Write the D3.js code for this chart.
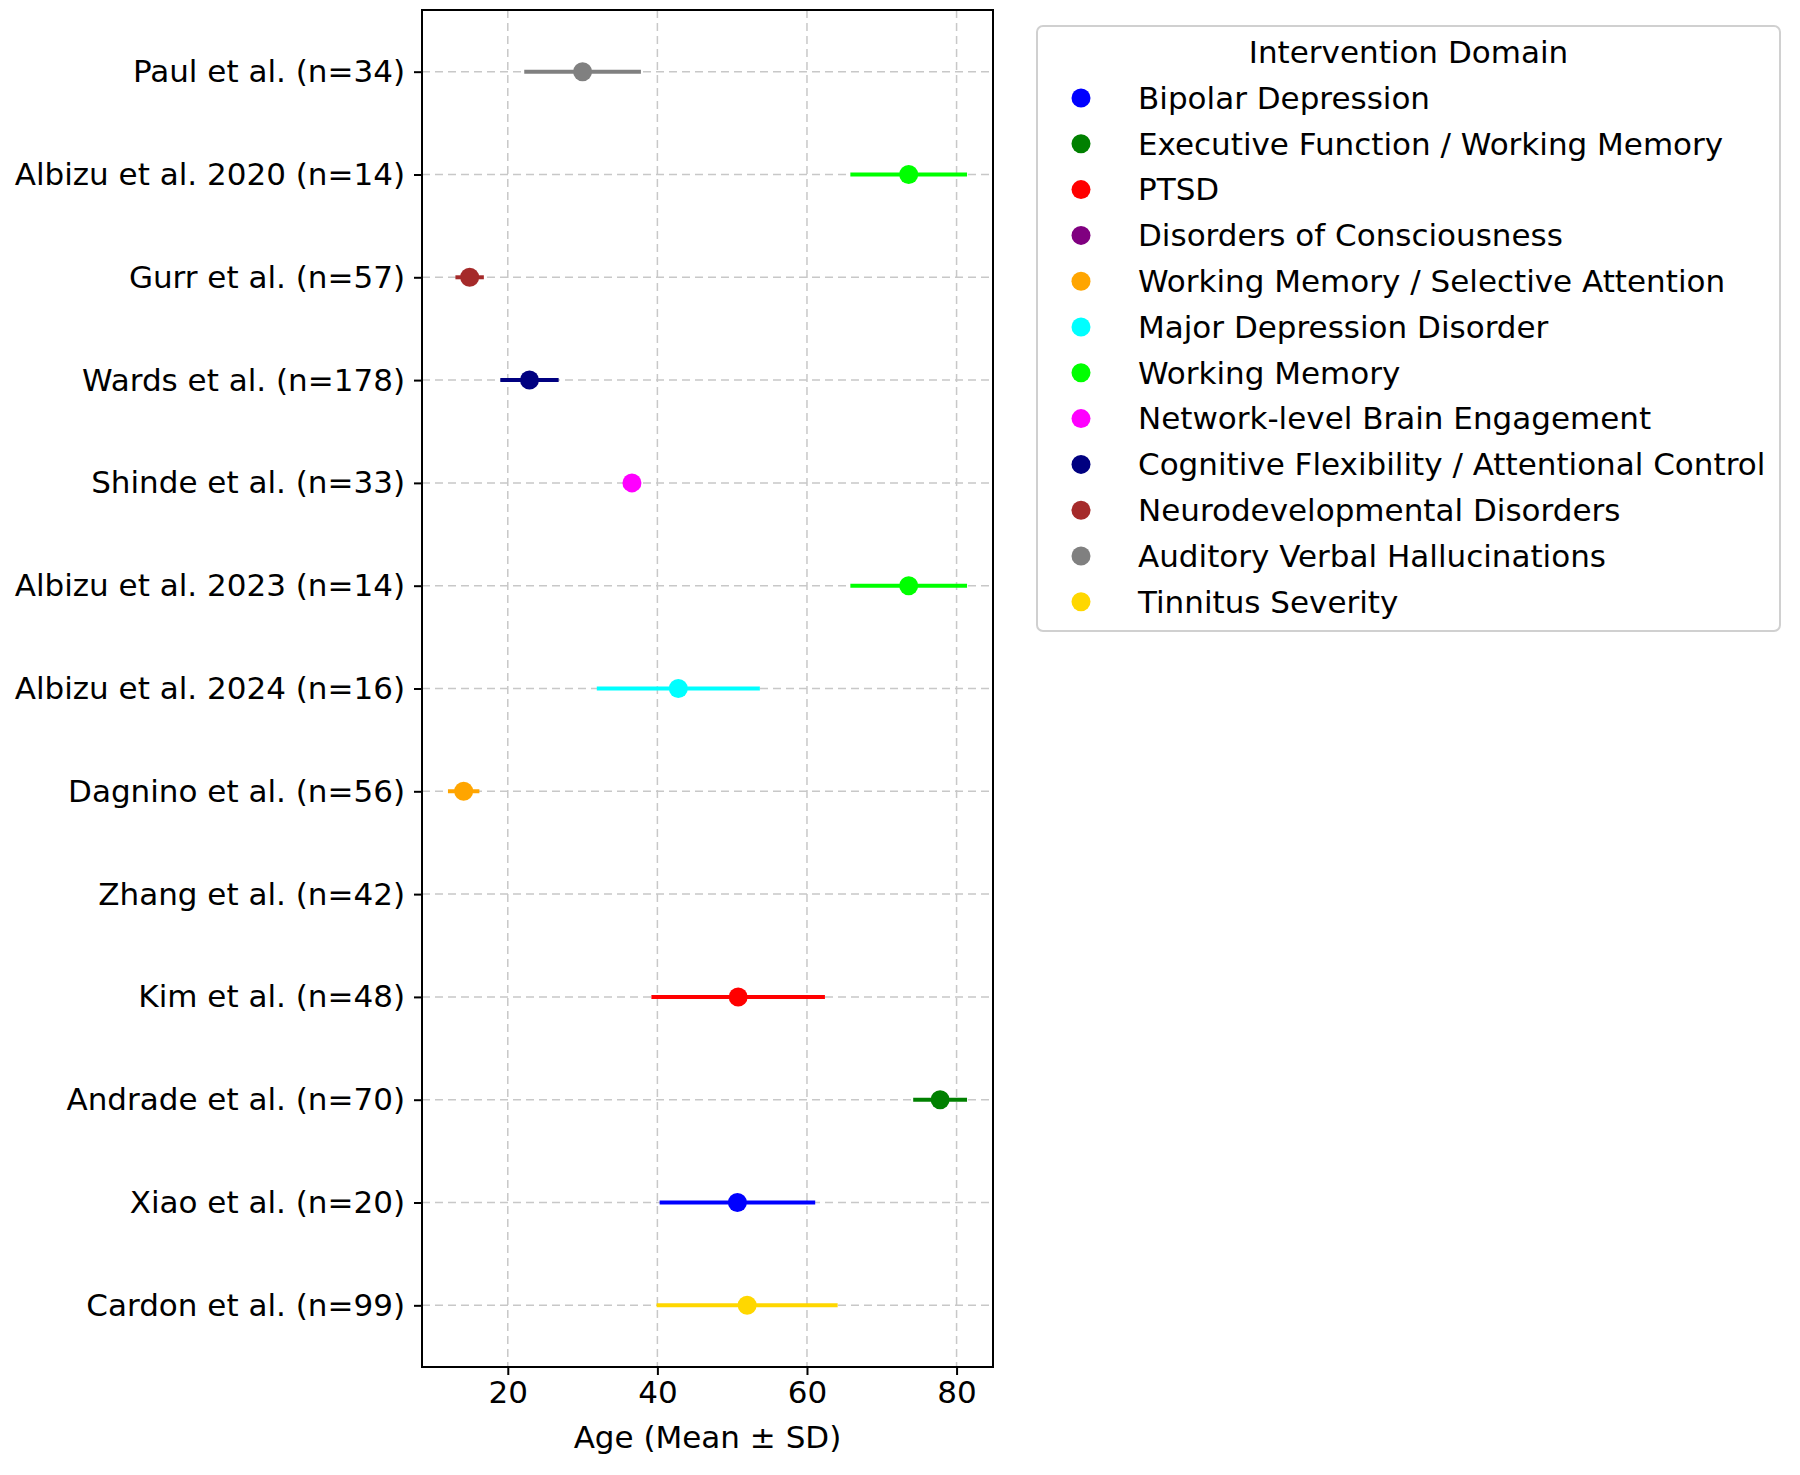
<!DOCTYPE html>
<html>
<head>
<meta charset="utf-8">
<script src="https://cdn.jsdelivr.net/npm/d3@7"></script>
<style>
    body { margin: 0; background: #fff; }
    svg { display: block; font-family: "DejaVu Sans", sans-serif; }
    .grid line { stroke: #c8c8c8; stroke-width: 1.5; stroke-dasharray: 8,5; }
    .axis path, .axis line { stroke: #000; stroke-width: 2; }
    .axis text { fill: #000; font-size: 31px; font-family: "DejaVu Sans", sans-serif; }
</style>
</head>
<body>
<svg id="chart" width="1800" height="1475"></svg>
<script>
'use strict';

// Studies, top to bottom.
var studies = [
    'Paul et al. (n=34)',
    'Albizu et al. 2020 (n=14)',
    'Gurr et al. (n=57)',
    'Wards et al. (n=178)',
    'Shinde et al. (n=33)',
    'Albizu et al. 2023 (n=14)',
    'Albizu et al. 2024 (n=16)',
    'Dagnino et al. (n=56)',
    'Zhang et al. (n=42)',
    'Kim et al. (n=48)',
    'Andrade et al. (n=70)',
    'Xiao et al. (n=20)',
    'Cardon et al. (n=99)'
];

// Mean age and SD per study (null = not reported).
var meanAge = [30.0, 73.6, 14.9, 22.9, 36.6, 73.6, 42.8, 14.1, null, 50.8, 77.8, 50.7, 52.0];
var sdAge   = [7.8, 7.8, 1.9, 3.9, 0, 7.8, 10.9, 2.1, null, 11.6, 3.6, 10.4, 12.1];

// Intervention domain of each study.
var studyDomain = [
    'Auditory Verbal Hallucinations',
    'Working Memory',
    'Neurodevelopmental Disorders',
    'Cognitive Flexibility / Attentional Control',
    'Network-level Brain Engagement',
    'Working Memory',
    'Major Depression Disorder',
    'Working Memory / Selective Attention',
    'Disorders of Consciousness',
    'PTSD',
    'Executive Function / Working Memory',
    'Bipolar Depression',
    'Tinnitus Severity'
];

// Legend order and colours.
var domains = [
    'Bipolar Depression',
    'Executive Function / Working Memory',
    'PTSD',
    'Disorders of Consciousness',
    'Working Memory / Selective Attention',
    'Major Depression Disorder',
    'Working Memory',
    'Network-level Brain Engagement',
    'Cognitive Flexibility / Attentional Control',
    'Neurodevelopmental Disorders',
    'Auditory Verbal Hallucinations',
    'Tinnitus Severity'
];
var domainColours = [
    'blue', 'green', 'red', 'purple', 'orange', 'cyan',
    'lime', 'magenta', 'navy', 'brown', 'gray', 'gold'
];

var xTicks = [20, 40, 60, 80];

var svg = d3.select('#chart');
var plot = {left: 422, right: 993, top: 10, bottom: 1367};

var colour = d3.scaleOrdinal().domain(domains).range(domainColours);

var rows = studies.map(function(s, i) {
    return {study: s, mean: meanAge[i], sd: sdAge[i], domain: studyDomain[i]};
});
var present = rows.filter(function(d) { return d.mean !== null; });

// x domain padded by 5% like matplotlib.
var lo = d3.min(present, function(d) { return d.mean - d.sd; });
var hi = d3.max(present, function(d) { return d.mean + d.sd; });
var pad = (hi - lo) * 0.05;

var x = d3.scaleLinear().domain([lo - pad, hi + pad]).range([plot.left, plot.right]);
var y = d3.scalePoint().domain(studies).range([plot.top, plot.bottom]).padding(0.6);

// Grid lines.
var grid = svg.append('g').attr('class', 'grid');
grid.selectAll('line.v')
    .data(xTicks)
    .enter()
    .append('line')
        .attr('x1', function(d) { return x(d); })
        .attr('x2', function(d) { return x(d); })
        .attr('y1', plot.top)
        .attr('y2', plot.bottom);
grid.selectAll('line.h')
    .data(studies)
    .enter()
    .append('line')
        .attr('x1', plot.left)
        .attr('x2', plot.right)
        .attr('y1', function(d) { return y(d); })
        .attr('y2', function(d) { return y(d); });

// Error bars and points.
var marks = svg.append('g');
marks.selectAll('line')
    .data(present.filter(function(d) { return d.sd > 0; }))
    .enter()
    .append('line')
        .attr('x1', function(d) { return x(d.mean - d.sd); })
        .attr('x2', function(d) { return x(d.mean + d.sd); })
        .attr('y1', function(d) { return y(d.study); })
        .attr('y2', function(d) { return y(d.study); })
        .attr('stroke', function(d) { return colour(d.domain); })
        .attr('stroke-width', 4);
marks.selectAll('circle')
    .data(present)
    .enter()
    .append('circle')
        .attr('cx', function(d) { return x(d.mean); })
        .attr('cy', function(d) { return y(d.study); })
        .attr('r', 9.5)
        .attr('fill', function(d) { return colour(d.domain); });

// Axes.
var xAxis = svg.append('g')
    .attr('class', 'axis')
    .attr('transform', 'translate(0,' + plot.bottom + ')')
    .call(d3.axisBottom(x).tickValues(xTicks).tickSize(8).tickPadding(6).tickSizeOuter(0));
xAxis.select('.domain').remove();

var yAxis = svg.append('g')
    .attr('class', 'axis')
    .attr('transform', 'translate(' + plot.left + ',0)')
    .call(d3.axisLeft(y).tickSize(8).tickPadding(9).tickSizeOuter(0));
yAxis.select('.domain').remove();

// Frame.
svg.append('rect')
    .attr('x', plot.left)
    .attr('y', plot.top)
    .attr('width', plot.right - plot.left)
    .attr('height', plot.bottom - plot.top)
    .attr('fill', 'none')
    .attr('stroke', '#000')
    .attr('stroke-width', 2);

svg.append('text')
    .attr('x', (plot.left + plot.right) / 2)
    .attr('y', 1448)
    .attr('text-anchor', 'middle')
    .style('font-size', '31px')
    .text('Age (Mean \u00b1 SD)');

// Legend.
var legend = svg.append('g').attr('transform', 'translate(1037,26)');
var legendWidth = 743;
var rowHeight = 45.8;

legend.append('rect')
    .attr('width', legendWidth)
    .attr('height', 605)
    .attr('rx', 6)
    .attr('fill', '#fff')
    .attr('stroke', '#d0d0d0')
    .attr('stroke-width', 2);

legend.append('text')
    .attr('x', legendWidth / 2)
    .attr('y', 37)
    .attr('text-anchor', 'middle')
    .style('font-size', '31px')
    .text('Intervention Domain');

var legendItems = legend.selectAll('g.legend__item')
    .data(domains)
    .enter()
    .append('g')
        .classed('legend__item', true)
        .attr('transform', function(d, i) { return 'translate(0,' + (72 + i * rowHeight) + ')'; });

legendItems.append('circle')
    .attr('cx', 44)
    .attr('r', 9.5)
    .attr('fill', function(d) { return colour(d); });

legendItems.append('text')
    .attr('x', 101)
    .attr('dy', '0.35em')
    .style('font-size', '31px')
    .text(function(d) { return d; });
</script>
</body>
</html>
